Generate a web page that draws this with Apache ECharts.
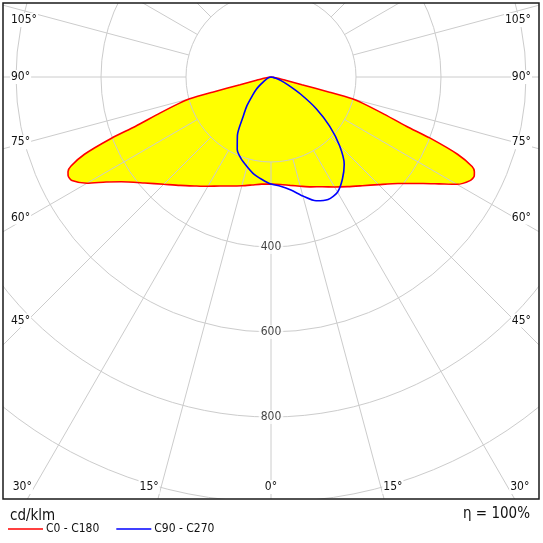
<!DOCTYPE html>
<html><head><meta charset="utf-8">
<script src="https://cdn.jsdelivr.net/npm/echarts@6/dist/echarts.min.js"></script>
<style>html,body{margin:0;padding:0;background:#fff}#c{width:543px;height:543px}</style>
</head><body><div id="c"></div>
<script>
// ---- data (cd/klm) ----
const redAnglesC0    = [0,5,10,15,20,25,30,35,40,45,50,55,57.5,60,62.5,64,65,66,67.5,69,70,72,74,75,75.5,76,77.5,80,85,90];
const redValuesC0    = [252,254,259,266,275,285,299,315,334,358,390,437,468,505,528,532,528,518,475,400,340,275,225,198,140,75,35,17,5,0];
const redAnglesC180  = [0,5,10,15,20,25,30,35,40,45,50,55,57.5,60,62.5,64,65,66,67.5,69,70,72,74,75,75.5,76,77.5,80,85,90];
const redValuesC180  = [252,253,258,265,273,283,297,313,333,357,388,430,460,500,528,531,527,515,475,402,340,275,225,198,140,75,35,17,5,0];
const blueAnglesC90  = [0,5,10,15,20,25,30,35,40,45,50,55,60,65,70,75,80,90];
const blueValuesC90  = [252,258,270,290,310,318,313,293,268,228,180,130,80,45,25,12,5,0];
const blueAnglesC270 = [0,5,10,15,20,25,30,35,40,45,50,55,60,70,80,90];
const blueValuesC270 = [252,242,232,218,205,188,158,115,88,62,45,28,18,8,3,0];
const radiusTickLabels = [400,600,800];
const angleTickLabels  = [0,15,30,45,60,75,90,105];
const seriesNames = ['C0 - C180','C90 - C270'];
const unitText = 'cd/klm';
const effText = '\u03b7 = 100%';

// ---- layout ----
const CX = 271, CY = 77, R_OUT = 510, R_IN = 85, RMAX = 1200, RGRID0 = 200;
const FONT = '"DejaVu Sans Condensed","DejaVu Sans",sans-serif';
const TXT = '#111';

function halfPair(angles, values, sign){ return angles.map((a,i)=>[values[i], sign*a]); }
function curve(leftA,leftV,rightA,rightV){
  const left = halfPair(leftA,leftV,1).reverse();      // +90 .. 0 (left side)
  const right = halfPair(rightA,rightV,-1).slice(1);   // 0 .. -90 (right side)
  return left.concat(right);
}
const redData  = curve(redAnglesC180, redValuesC180, redAnglesC0, redValuesC0);
const blueData = curve(blueAnglesC270, blueValuesC270, blueAnglesC90, blueValuesC90);

const chart = echarts.init(document.getElementById('c'));

const hidden = {show:false};
const gridColor = '#cccccc';

// angle labels along rays, at the frame
const gfx = [];
function addAngleLabel(a, side){
  let x, y, align = 'center';
  if (a >= 45){
    align = side < 0 ? 'left' : 'right';
    x = side < 0 ? 10 : 532;
    const t = Math.tan(a*Math.PI/180);
    y = (a === 90) ? CY : CY + 243.5/t;
    y = Math.max(20, y);
  } else {
    y = 487;
    x = CX + side*(410*Math.tan(a*Math.PI/180) + (a>0 ? 12 : 0));
  }
  gfx.push({type:'text', x:x, y:y, z:60,
    style:{text:a+'\u00b0', fill:TXT, font:'12px '+FONT, align:align, textAlign:align,
      verticalAlign:'middle', textVerticalAlign:'middle', backgroundColor:'#fff', padding:[1,1]}});
}
angleTickLabels.forEach(a=>{
  if (a===0) addAngleLabel(0,0);
  else { addAngleLabel(a,-1); addAngleLabel(a,1); }
});

const masks = [
  {type:'rect', z:50, shape:{x:0,y:0,width:543,height:3}, style:{fill:'#fff'}},
  {type:'rect', z:50, shape:{x:0,y:0,width:3,height:543}, style:{fill:'#fff'}},
  {type:'rect', z:50, shape:{x:539,y:0,width:4,height:543}, style:{fill:'#fff'}},
  {type:'rect', z:50, shape:{x:0,y:499,width:543,height:44}, style:{fill:'#fff'}},
  {type:'rect', z:55, shape:{x:3,y:3,width:536,height:496}, style:{fill:'none', stroke:'#1a1a1a', lineWidth:1.5}},
  {type:'text', z:60, x:10, y:516, style:{text:unitText, fill:TXT, font:'15px '+FONT, verticalAlign:'middle', textVerticalAlign:'middle'}},
  {type:'text', z:60, x:530, y:514, style:{text:effText, fill:TXT, font:'15px '+FONT, align:'right', textAlign:'right', verticalAlign:'middle', textVerticalAlign:'middle'}}
];

chart.setOption({
  animation:false,
  backgroundColor:'#fff',
  polar:[
    {center:[CX,CY], radius:R_OUT},
    {center:[CX,CY], radius:[R_IN,R_OUT]}
  ],
  angleAxis:[
    {polarIndex:0, type:'value', min:-180, max:180, startAngle:90, clockwise:true,
     axisLine:hidden, axisTick:hidden, axisLabel:hidden, splitLine:hidden},
    {polarIndex:1, type:'value', min:-180, max:180, interval:15, startAngle:90, clockwise:true, z:3,
     axisLine:hidden, axisTick:hidden, axisLabel:hidden,
     splitLine:{show:true, lineStyle:{color:gridColor, width:1}}}
  ],
  radiusAxis:[
    {polarIndex:0, type:'value', min:0, max:RMAX,
     axisLine:hidden, axisTick:hidden, axisLabel:hidden, splitLine:hidden},
    {polarIndex:1, type:'value', min:RGRID0, max:RMAX, interval:200, z:3,
     axisLine:hidden, axisTick:hidden, axisLabel:hidden,
     splitLine:{show:true, lineStyle:{color:gridColor, width:1}}}
  ],
  legend:{
    data:seriesNames, left:8, top:523, padding:0, icon:'rect', itemWidth:35, itemHeight:1.5, itemGap:17,
    selectedMode:false, z:70,
    textStyle:{fontFamily:FONT, fontSize:12, color:TXT, padding:[0,0,0,-2]}
  },
  graphic:{elements: masks.concat(gfx)},
  series:[
    {type:'line', coordinateSystem:'polar', polarIndex:0, data:redData, smooth:0.25,
     symbol:'none', silent:true, z:1, lineStyle:{width:0}, areaStyle:{color:'#ffff00', opacity:1}},
    {name:seriesNames[0], type:'line', coordinateSystem:'polar', polarIndex:0, data:redData, smooth:0.25,
     symbol:'none', z:5, color:'#ff0000', lineStyle:{color:'#ff0000', width:1.6}},
    {name:seriesNames[1], type:'line', coordinateSystem:'polar', polarIndex:0, data:blueData, smooth:0.25,
     symbol:'none', z:5, color:'#0000ff', lineStyle:{color:'#0000ff', width:1.6}},
    {type:'scatter', coordinateSystem:'polar', polarIndex:0, z:10, silent:true,
     data:radiusTickLabels.map(v=>[v,0]), symbolSize:1, itemStyle:{color:'rgba(0,0,0,0)'},
     label:{show:true, position:'inside', formatter:p=>String(p.value[0]),
       fontFamily:FONT, fontSize:12, color:TXT, backgroundColor:'#fff', padding:[1,2]}}
  ]
});
</script></body></html>
